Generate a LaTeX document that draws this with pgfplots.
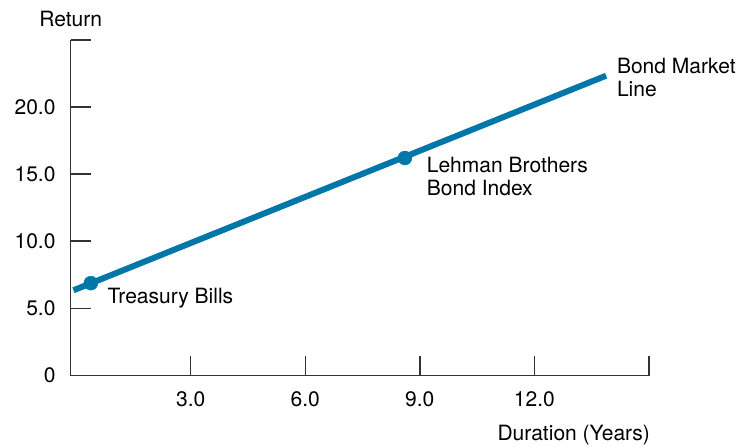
\documentclass[border=0pt]{standalone}
\usepackage{pgfplots}
\pgfplotsset{compat=1.18}
\usepackage{fontspec}
\setmainfont{TeX Gyre Heros}
\definecolor{bml}{RGB}{0,119,168}
\definecolor{axgray}{RGB}{50,50,50}
\begin{document}
\fontsize{21.1}{22.5}\selectfont
\begin{tikzpicture}
\begin{axis}[
  width=579.3bp, height=335.7bp, scale only axis,
  xmin=-0.143, xmax=15.03, ymin=0, ymax=25,
  axis x line=bottom, axis y line=left,
  axis line style={-, axgray, line width=1.5bp},
  tick align=inside, major tick length=20bp,
  tick style={axgray, line width=1.5bp},
  xtick={3,6,9,12,15}, xticklabels={3.0,6.0,9.0,12.0,},
  ytick={0,5,10,15,20,25}, yticklabels={0,5.0,10.0,15.0,20.0,},
  clip=false,
  /pgf/number format/assume math mode=true,
  xticklabel style={yshift=-9bp},
  yticklabel style={xshift=-8bp},
  every tick label/.append style={font=\fontsize{21.1}{24}\selectfont},
]
\path (axis cs:-1.995,27.966) rectangle (axis cs:17.413,-5.293);
\addplot[bml, line width=6bp, no markers] coordinates {(-0.07,6.35) (13.88,22.33)};
\addplot[bml, only marks, mark=*, mark size=7bp] coordinates {(0.385,6.88) (8.61,16.2)};
\node[anchor=base, inner sep=0] at (axis cs:-0.143,25.96) {Return};
\node[anchor=base east, inner sep=0] at (axis cs:15.03,-4.83) {Duration (Years)};
\node[anchor=base west, inner sep=0] at (axis cs:0.816,5.40) {Treasury Bills};
\node[anchor=base west, inner sep=0, align=left] at (axis cs:9.18,13.44) {Lehman Brothers\\Bond Index};
\node[anchor=base west, inner sep=0, align=left] at (axis cs:14.16,20.79) {Bond Market\\Line};
\end{axis}
\end{tikzpicture}
\end{document}
